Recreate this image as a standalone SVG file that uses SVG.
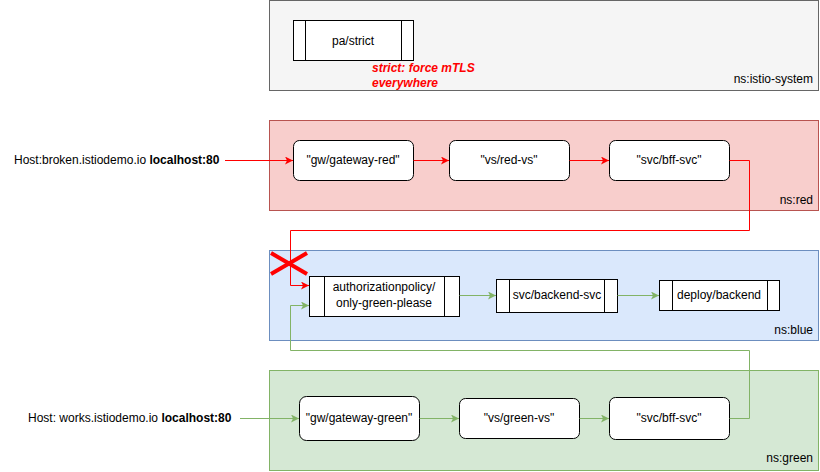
<svg xmlns="http://www.w3.org/2000/svg" width="820" height="472" viewBox="0 0 820 472">
<style>
text{font-family:"Liberation Sans",Arial,sans-serif;font-size:12px;fill:#000}
.c{text-anchor:middle}
.r{text-anchor:end}
.node{fill:#fff;stroke:#000;stroke-width:1}
.red{fill:none;stroke:#ff0000;stroke-width:1}
.grn{fill:none;stroke:#82b366;stroke-width:1}
.note{fill:#ff0000;font-weight:bold;font-style:italic}
</style>
<defs>
<marker id="ar" markerWidth="10" markerHeight="10" refX="8" refY="4" orient="auto" markerUnits="userSpaceOnUse"><path d="M0,0 L8,4 L0,8 L2,4 z" fill="#ff0000"/></marker>
<marker id="ag" markerWidth="10" markerHeight="10" refX="8" refY="4" orient="auto" markerUnits="userSpaceOnUse"><path d="M0,0 L8,4 L0,8 L2,4 z" fill="#82b366"/></marker>
</defs>
<g id="ns-istio-system">
<rect x="269.5" y="0.5" width="549" height="90" fill="#f5f5f5" stroke="#666666"/>
<text class="r" x="813" y="83">ns:istio-system</text>
</g>
<g id="ns-red">
<rect x="269.5" y="120.5" width="549" height="90" fill="#f8cecc" stroke="#b85450"/>
<text class="r" x="813" y="204">ns:red</text>
</g>
<g id="ns-blue">
<rect x="269.5" y="250.5" width="549" height="90" fill="#dae8fc" stroke="#6c8ebf"/>
<text class="r" x="813" y="334">ns:blue</text>
</g>
<g id="ns-green">
<rect x="269.5" y="370.5" width="549" height="100" fill="#d5e8d4" stroke="#82b366"/>
<text class="r" x="813" y="462">ns:green</text>
</g>
<g id="pa-strict">
<rect class="node" x="293.5" y="20.5" width="120" height="40"/>
<line x1="305.5" y1="20.5" x2="305.5" y2="60.5" stroke="#000"/>
<line x1="401.5" y1="20.5" x2="401.5" y2="60.5" stroke="#000"/>
<text class="c" x="353" y="45">pa/strict</text>
</g>
<g id="strict-note">
<text class="note" x="372" y="72">strict: force mTLS</text>
<text class="note" x="372" y="87">everywhere</text>
</g>
<g id="host-broken">
<text x="14" y="164">Host:broken.istiodemo.io <tspan font-weight="bold">localhost:80</tspan></text>
</g>
<g id="host-works">
<text x="28" y="422">Host: works.istiodemo.io <tspan font-weight="bold">localhost:80</tspan></text>
</g>
<g id="gw-gateway-red">
<rect class="node" x="293.5" y="140.5" width="120" height="40" rx="6"/>
<text class="c" x="353" y="164">"gw/gateway-red"</text>
</g>
<g id="vs-red-vs">
<rect class="node" x="449.5" y="140.5" width="120" height="40" rx="6"/>
<text class="c" x="509" y="164">"vs/red-vs"</text>
</g>
<g id="svc-bff-svc-red">
<rect class="node" x="609.5" y="140.5" width="120" height="40" rx="6"/>
<text class="c" x="669" y="164">"svc/bff-svc"</text>
</g>
<g id="authz-only-green">
<rect class="node" x="309.5" y="276.5" width="150" height="40"/>
<line x1="324.5" y1="276.5" x2="324.5" y2="316.5" stroke="#000"/>
<line x1="444.5" y1="276.5" x2="444.5" y2="316.5" stroke="#000"/>
<text class="c" x="384" y="291">authorizationpolicy/</text>
<text class="c" x="384" y="307">only-green-please</text>
</g>
<g id="svc-backend-svc">
<rect class="node" x="496.5" y="279.5" width="121" height="33"/>
<line x1="509.5" y1="279.5" x2="509.5" y2="312.5" stroke="#000"/>
<line x1="604.5" y1="279.5" x2="604.5" y2="312.5" stroke="#000"/>
<text class="c" x="557" y="299">svc/backend-svc</text>
</g>
<g id="deploy-backend">
<rect class="node" x="659.5" y="280.5" width="120" height="30"/>
<line x1="672.5" y1="280.5" x2="672.5" y2="310.5" stroke="#000"/>
<line x1="767.5" y1="280.5" x2="767.5" y2="310.5" stroke="#000"/>
<text class="c" x="719" y="299">deploy/backend</text>
</g>
<g id="gw-gateway-green">
<rect class="node" x="299.5" y="396.5" width="120" height="44" rx="7"/>
<text class="c" x="359" y="422">"gw/gateway-green"</text>
</g>
<g id="vs-green-vs">
<rect class="node" x="459.5" y="398.5" width="120" height="40" rx="6"/>
<text class="c" x="519" y="422">"vs/green-vs"</text>
</g>
<g id="svc-bff-svc-green">
<rect class="node" x="609.5" y="397.5" width="120" height="42" rx="6"/>
<text class="c" x="669" y="422">"svc/bff-svc"</text>
</g>
<g id="connectors">
<line class="red" x1="225" y1="160.5" x2="293" y2="160.5" marker-end="url(#ar)"/>
<line class="red" x1="413.5" y1="160.5" x2="449" y2="160.5" marker-end="url(#ar)"/>
<line class="red" x1="569.5" y1="160.5" x2="609" y2="160.5" marker-end="url(#ar)"/>
<path class="red" d="M729.5,160.5 H749.5 V230.5 H290.5 V285.5 H309" marker-end="url(#ar)"/>
<line class="grn" x1="240" y1="418.5" x2="299" y2="418.5" marker-end="url(#ag)"/>
<line class="grn" x1="419.5" y1="418.5" x2="459" y2="418.5" marker-end="url(#ag)"/>
<line class="grn" x1="579.5" y1="418.5" x2="609" y2="418.5" marker-end="url(#ag)"/>
<path class="grn" d="M729.5,418.5 H749.5 V350.5 H290.5 V305.5 H309" marker-end="url(#ag)"/>
<line class="grn" x1="459.5" y1="295.5" x2="496" y2="295.5" marker-end="url(#ag)"/>
<line class="grn" x1="617.5" y1="295.5" x2="659" y2="295.5" marker-end="url(#ag)"/>
</g>
<g id="blocked-x">
<line x1="271" y1="253" x2="307" y2="274" stroke="#ff0000" stroke-width="4"/>
<line x1="271" y1="274" x2="307" y2="253" stroke="#ff0000" stroke-width="4"/>
</g>
</svg>
